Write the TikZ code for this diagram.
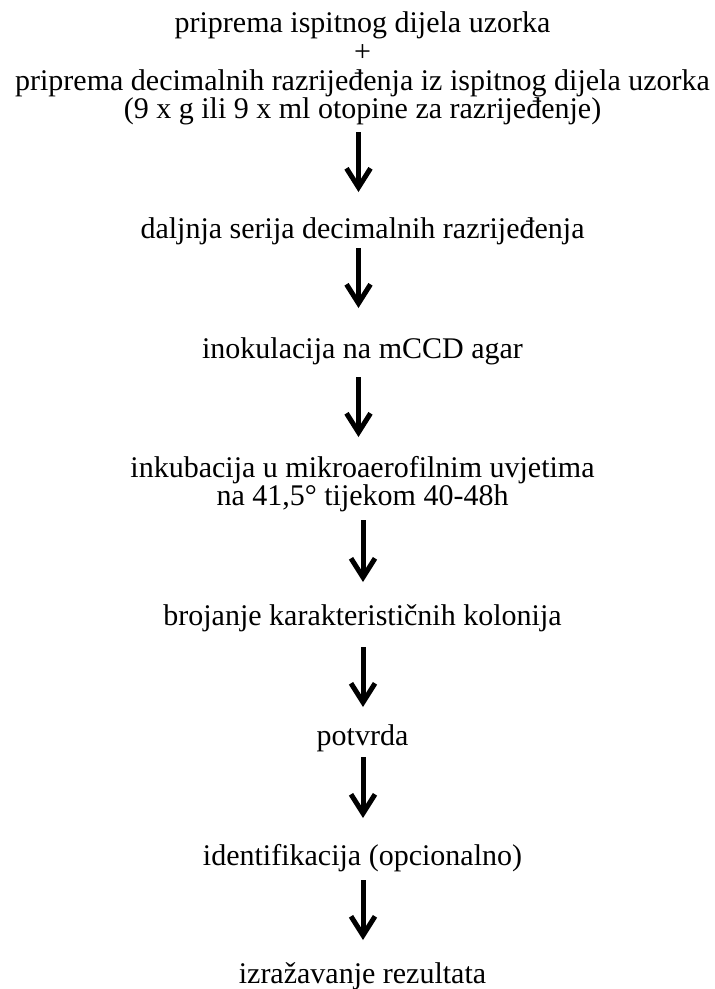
\documentclass[tikz,border=0pt]{standalone}
\usepackage{fontspec}
\setmainfont{Liberation Serif}
\usetikzlibrary{arrows.meta}
\begin{document}
\begin{tikzpicture}[x=1pt,y=1pt,
  txt/.style={anchor=base,inner sep=0pt,font=\fontsize{30}{30}\selectfont},
  flow/.style={line width=5pt,-{Straight Barb[length=19pt,width=24pt,line width=5pt]}}]
\useasboundingbox (0,0) rectangle (715,-989);
\fill[white] (0,0) rectangle (715,-989);
\node[txt] (t1) at (362.5,-32) {priprema ispitnog dijela uzorka};
\node[txt] (t2) at (362.5,-61) {+};
\node[txt] (t3) at (362.5,-90) {priprema decimalnih razrijeđenja iz ispitnog dijela uzorka};
\node[txt] (t4) at (362.5,-118) {(9 x g ili 9 x ml otopine za razrijeđenje)};
\node[txt] (t5) at (362.5,-238) {daljnja serija decimalnih razrijeđenja};
\node[txt] (t6) at (362.5,-358) {inokulacija na mCCD agar};
\node[txt] (t7) at (362.5,-477) {inkubacija u mikroaerofilnim uvjetima};
\node[txt] (t8) at (362.5,-505) {na 41,5° tijekom 40-48h};
\node[txt] (t9) at (362.5,-625) {brojanje karakterističnih kolonija};
\node[txt] (t10) at (362.5,-745) {potvrda};
\node[txt] (t11) at (362.5,-865) {identifikacija (opcionalno)};
\node[txt] (t12) at (362.5,-983) {izražavanje rezultata};
\draw[flow] ([xshift=-4pt,yshift=-14pt]t4.base) -- ([xshift=-4pt,yshift=46pt]t5.base);
\draw[flow] ([xshift=-4pt,yshift=-10pt]t5.base) -- ([xshift=-4pt,yshift=50pt]t6.base);
\draw[flow] ([xshift=-4pt,yshift=-19pt]t6.base) -- ([xshift=-4pt,yshift=40pt]t7.base);
\draw[flow] ([xshift=0.5pt,yshift=-15pt]t8.base) -- ([xshift=0.5pt,yshift=43pt]t9.base);
\draw[flow] ([xshift=0.5pt,yshift=-22pt]t9.base) -- ([xshift=0.5pt,yshift=38pt]t10.base);
\draw[flow] ([xshift=0.5pt,yshift=-12pt]t10.base) -- ([xshift=0.5pt,yshift=47pt]t11.base);
\draw[flow] ([xshift=0.5pt,yshift=-15pt]t11.base) -- ([xshift=0.5pt,yshift=43pt]t12.base);
\end{tikzpicture}
\end{document}
